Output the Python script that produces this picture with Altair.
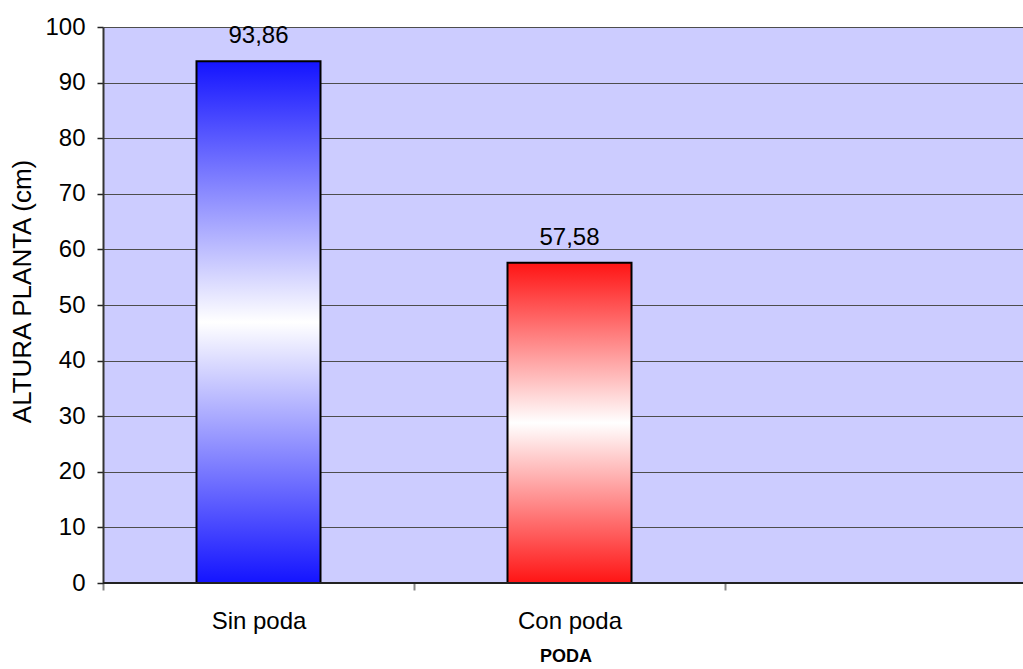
import altair as alt
import pandas as pd

# ---- data ----
categorias = ["Sin poda", "Con poda"]
altura = [93.86, 57.58]
slots = ["Sin poda", "Con poda", " "]          # third slot is empty in the original
y_ticks = [0, 10, 20, 30, 40, 50, 60, 70, 80, 90, 100]

df = pd.DataFrame({"poda": categorias, "altura": altura})

FONT = "Liberation Sans"
W, H = 920, 556
STEP = 311
PAD_IN = 1 - 124 / STEP

def grad(c):
    return alt.LinearGradient(
        gradient="linear",
        stops=[
            alt.GradientStop(color=c, offset=0),
            alt.GradientStop(color="#ffffff", offset=0.5),
            alt.GradientStop(color=c, offset=1),
        ],
        x1=0, x2=0, y1=0, y2=1,
    )

x_enc = alt.X(
    "poda:N",
    sort=slots,
    scale=alt.Scale(domain=slots, range=[0, STEP * 3], paddingInner=PAD_IN, paddingOuter=PAD_IN / 2),
    axis=alt.Axis(
        title="PODA", titleFont=FONT, titleFontSize=18, titleFontWeight="bold", titleColor="black",
        titleX=STEP * 3 / 2 - 4, titleY=78, titleBaseline="alphabetic", titleAnchor="middle",
        labelFont=FONT, labelFontSize=24, labelColor="black", labelPadding=19, labelAngle=0,
        labelOffset=STEP / 2,
        domain=False, ticks=True, tickSize=7, tickColor="#888888", tickWidth=2, tickOffset=-STEP / 2,
        grid=False,
    ),
)
y_enc = alt.Y(
    "altura:Q",
    scale=alt.Scale(domain=[0, 100], nice=False),
    axis=alt.Axis(
        values=y_ticks, title="ALTURA PLANTA (cm)", titleFont=FONT, titleFontSize=26,
        titleFontWeight="normal", titleColor="black", titleX=-81, titleY=264,
        titleBaseline="middle", titleAngle=270, titleAnchor="middle",
        labelFont=FONT, labelFontSize=24, labelColor="black", labelPadding=12,
        tickSize=6, tickColor="#222222", tickWidth=1.5,
        domainColor="#333333", domainWidth=2,
        grid=True, gridColor="#4d4d4d", gridWidth=1,
    ),
)

base = alt.Chart(df)

bar_sin = base.transform_filter(alt.datum.poda == "Sin poda").mark_bar(
    fill=grad("#1414ff"), stroke="black", strokeWidth=2
).encode(x=x_enc, y=y_enc)

bar_con = base.transform_filter(alt.datum.poda == "Con poda").mark_bar(
    fill=grad("#ff1414"), stroke="black", strokeWidth=2
).encode(x=x_enc, y=y_enc)

labels = base.transform_calculate(
    lbl="replace(format(datum.altura, '.2f'), '.', ',')"
).mark_text(
    font=FONT, fontSize=24, color="black", baseline="alphabetic", dy=-18, align="center"
).encode(x=alt.X("poda:N", sort=slots), y="altura:Q", text="lbl:N")

baseline_rule = alt.Chart(pd.DataFrame({"v": [0]})).mark_rule(
    color="#222222", strokeWidth=2
).encode(y="v:Q")

chart = alt.layer(bar_sin, bar_con, labels, baseline_rule).properties(
    width=W, height=H,
    autosize=alt.AutoSizeParams(type="none"),
    padding={"left": 103, "top": 27, "right": 0, "bottom": 86},
    background="white",
).configure_view(fill="#ccccff", stroke=None)

chart.save("out.html", embed_options={"renderer": "svg", "actions": False})
